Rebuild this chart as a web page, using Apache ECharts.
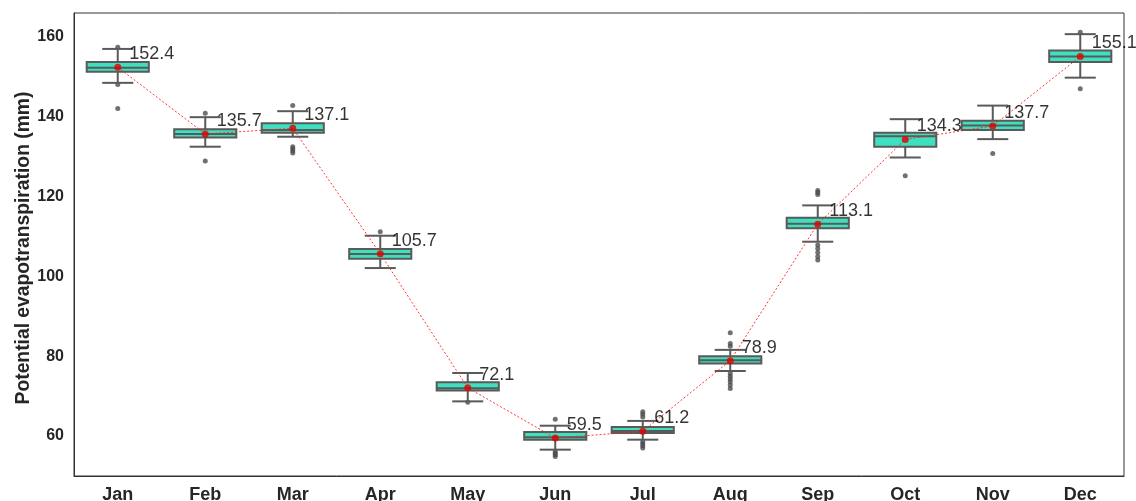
<!DOCTYPE html>
<html>
<head>
<meta charset="utf-8">
<script src="https://cdn.jsdelivr.net/npm/echarts@6/dist/echarts.min.js"></script>
<style>
  html, body { margin: 0; padding: 0; background: #fff; }
  #chart { width: 1136px; height: 501px; }
</style>
</head>
<body>
<div id="chart"></div>
<script>
// Monthly potential evapotranspiration (mm)
const months = ['Jan', 'Feb', 'Mar', 'Apr', 'May', 'Jun', 'Jul', 'Aug', 'Sep', 'Oct', 'Nov', 'Dec'];

// Box statistics per month: [lower whisker, Q1, median, Q3, upper whisker]
const lowerWhisker = [148.5, 132.5, 135.0, 102.1, 68.7, 56.6, 59.1, 76.3, 108.7, 129.8, 134.4, 149.8];
const q1Values     = [151.3, 134.8, 136.0, 104.4, 71.4, 59.1, 60.8, 78.2, 112.1, 132.5, 136.7, 153.7];
const medianValues = [152.3, 135.7, 136.7, 105.6, 72.0, 59.7, 61.3, 79.0, 113.2, 135.1, 137.8, 155.1];
const q3Values     = [153.7, 136.9, 138.4, 106.9, 73.5, 61.0, 62.3, 80.0, 114.7, 136.0, 139.0, 156.6];
const upperWhisker = [157.0, 139.9, 141.4, 110.2, 75.8, 62.6, 63.8, 81.6, 117.8, 139.4, 142.8, 160.7];

// Monthly means (labelled)
const meanValues = [152.4, 135.7, 137.1, 105.7, 72.1, 59.5, 61.2, 78.9, 113.1, 134.3, 137.7, 155.1];

// Outliers per month
const outliers = [
  [157.4, 148.1, 142.1],
  [140.9, 128.9],
  [142.8, 132.5, 132.0, 131.5, 130.9],
  [111.2],
  [68.5],
  [64.2, 56.1, 55.7, 55.3, 54.9],
  [66.1, 65.5, 64.8, 58.6, 58.1, 57.6, 57.0],
  [85.9, 83.2, 82.5, 75.7, 75.0, 74.3, 73.6, 72.8, 71.9],
  [121.5, 121.0, 120.5, 107.9, 107.0, 106.0, 105.0, 104.1],
  [125.2],
  [130.8],
  [161.2, 147.0]
];

// Y-axis tick labels
const yTickLabels = [60, 80, 100, 120, 140, 160];

const boxData = months.map((m, i) => [i, lowerWhisker[i], q1Values[i], medianValues[i], q3Values[i], upperWhisker[i]]);
const outlierData = [];
outliers.forEach((list, i) => list.forEach(v => outlierData.push([i, v])));
const meanData = meanValues.map((v, i) => [i, v]);

const boxFill = '#3fe0bf';
const boxEdge = '#5a5a5a';
const font = 'Liberation Sans, Arial, sans-serif';

function renderBox(params, api) {
  const idx = api.value(0);
  const pMin = api.coord([idx, api.value(1)]);
  const pQ1 = api.coord([idx, api.value(2)]);
  const pMed = api.coord([idx, api.value(3)]);
  const pQ3 = api.coord([idx, api.value(4)]);
  const pMax = api.coord([idx, api.value(5)]);
  const band = api.size([1, 0])[0];
  const boxW = band * 0.71;
  const capW = boxW * 0.5;
  const cx = pMed[0];
  const stroke = { stroke: boxEdge, lineWidth: 2, fill: null };
  return {
    type: 'group',
    children: [
      { type: 'line', shape: { x1: cx, y1: pQ3[1], x2: cx, y2: pMax[1] }, style: stroke },
      { type: 'line', shape: { x1: cx, y1: pQ1[1], x2: cx, y2: pMin[1] }, style: stroke },
      { type: 'line', shape: { x1: cx - capW / 2, y1: pMax[1], x2: cx + capW / 2, y2: pMax[1] }, style: stroke },
      { type: 'line', shape: { x1: cx - capW / 2, y1: pMin[1], x2: cx + capW / 2, y2: pMin[1] }, style: stroke },
      { type: 'rect', shape: { x: cx - boxW / 2, y: pQ3[1], width: boxW, height: pQ1[1] - pQ3[1] },
        style: { fill: boxFill, stroke: boxEdge, lineWidth: 2 } },
      { type: 'line', shape: { x1: cx - boxW / 2, y1: pMed[1], x2: cx + boxW / 2, y2: pMed[1] }, style: stroke }
    ]
  };
}

const chart = echarts.init(document.getElementById('chart'), null, { renderer: 'canvas' });
chart.setOption({
  animation: false,
  backgroundColor: '#ffffff',
  grid: {
    left: 74, right: 12, top: 13, bottom: 25,
    outerBoundsMode: 'none', containLabel: false,
    show: true, borderColor: '#333', borderWidth: 1, backgroundColor: 'transparent'
  },
  xAxis: {
    type: 'category',
    data: months,
    boundaryGap: true,
    axisLine: { show: true, lineStyle: { color: '#333', width: 1 } },
    axisTick: { show: false },
    axisLabel: { color: '#262626', fontFamily: font, fontWeight: 'bold', fontSize: 18, margin: 10 }
  },
  yAxis: {
    type: 'value',
    min: 50,
    max: 166,
    interval: 10,
    name: 'Potential evapotranspiration (mm)',
    nameLocation: 'middle',
    nameRotate: 90,
    nameGap: 41,
    nameMoveOverlap: false,
    nameTextStyle: { color: '#262626', fontFamily: font, fontWeight: 'bold', fontSize: 19.3, padding: [0, 7, 0, 0] },
    splitLine: { show: false },
    axisLine: { show: true, lineStyle: { color: '#333', width: 1 } },
    axisTick: { show: false },
    axisLabel: {
      color: '#262626', fontFamily: font, fontWeight: 'bold', fontSize: 16, margin: 10,
      formatter: v => (yTickLabels.indexOf(v) >= 0 ? String(v) : '')
    }
  },
  series: [
    {
      type: 'scatter',
      data: outlierData,
      symbol: 'circle',
      symbolSize: 5,
      itemStyle: { color: '#4d4d4d' },
      z: 2
    },
    {
      type: 'custom',
      data: boxData,
      renderItem: renderBox,
      encode: { x: 0, y: [1, 2, 3, 4, 5] },
      z: 3
    },
    {
      type: 'line',
      data: meanData,
      symbol: 'none',
      lineStyle: { color: '#ff2020', width: 0.9, type: [2, 2] },
      z: 4
    },
    {
      type: 'scatter',
      data: meanData,
      symbol: 'circle',
      symbolSize: 7,
      itemStyle: { color: '#e00000' },
      label: {
        show: true,
        position: 'right',
        distance: 0,
        offset: [8, -13],
        color: '#000',
        fontFamily: font,
        fontSize: 18,
        formatter: p => p.value[1].toFixed(1)
      },
      z: 5
    }
  ]
});
</script>
</body>
</html>
